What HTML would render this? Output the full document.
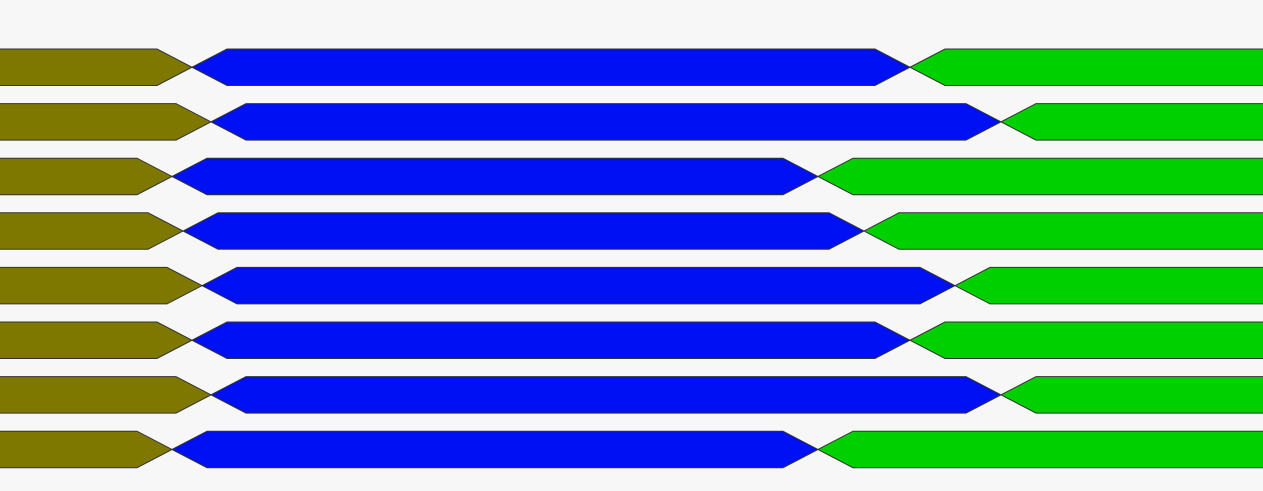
<!DOCTYPE html>
<html><head><meta charset="utf-8"><style>
html,body{margin:0;padding:0;background:#f7f7f7;}
svg{display:block;}
</style></head><body>
<svg id="chart" width="1263" height="491" viewBox="0 0 1263 491" xmlns="http://www.w3.org/2000/svg">
<rect width="1263" height="491" fill="#f7f7f7"/>
<g id="rows"></g>
</svg>
<script>
// Transition times (crossing points) per signal row, in time units
const rowNames = ['signal-1','signal-2','signal-3','signal-4','signal-5','signal-6','signal-7','signal-8'];
const transition1 = [19.2, 21.1, 17.2, 18.3, 20.2, 19.2, 21.1, 17.2];
const transition2 = [91.0, 100.1, 81.8, 86.4, 95.5, 91.0, 100.1, 81.8];
const stateColors = ['#7f7800','#0010f5','#00d000'];
const stateNames = ['state-a','state-b','state-c'];

const W = 1263, pxPerUnit = 10, slope = 35;
const rowTop0 = 49, rowStep = 54.6, rowH = 36.5;
function xScale(t){ return t * pxPerUnit; }
function yScale(i){ return rowTop0 + i * rowStep; }

const g = document.getElementById('rows');
const NS = 'http://www.w3.org/2000/svg';
rowNames.forEach((name, i) => {
  const top = yScale(i), bot = top + rowH, mid = top + rowH/2;
  const c1 = xScale(transition1[i]), c2 = xScale(transition2[i]);
  const segs = [
    [[-40,top],[c1-slope,top],[c1,mid],[c1-slope,bot],[-40,bot]],
    [[c1,mid],[c1+slope,top],[c2-slope,top],[c2,mid],[c2-slope,bot],[c1+slope,bot]],
    [[c2,mid],[c2+slope,top],[W+40,top],[W+40,bot],[c2+slope,bot]]
  ];
  const row = document.createElementNS(NS,'g');
  
  
  segs.forEach((pts, k) => {
    const p = document.createElementNS(NS,'polygon');
    p.setAttribute('points', pts.map(q => q.join(',')).join(' '));
    p.setAttribute('fill', stateColors[k]);
    p.setAttribute('stroke', '#333');
    p.setAttribute('stroke-width', '1');
    
    
    row.appendChild(p);
  });
  g.appendChild(row);
});
</script>
</body></html>
